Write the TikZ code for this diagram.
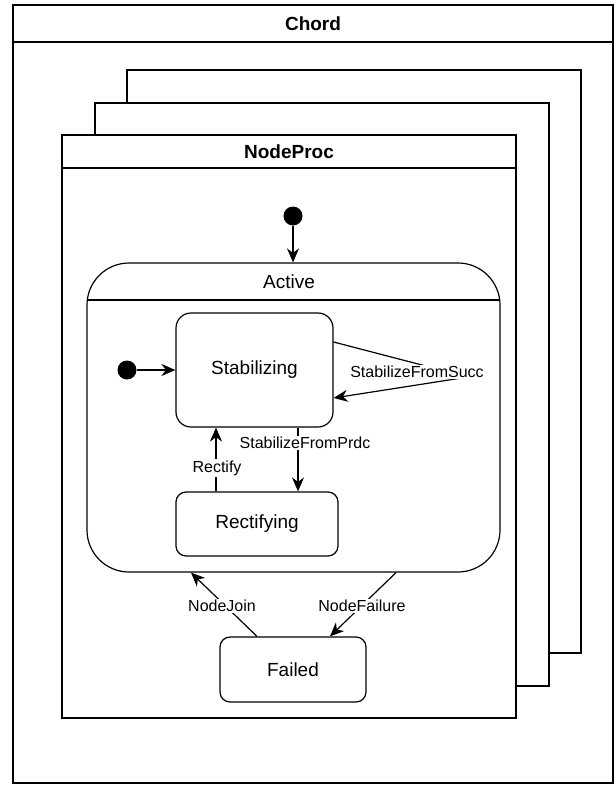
\documentclass[tikz,border=0pt]{standalone}
\usepackage{fontspec}
\setmainfont{Liberation Sans}
\usetikzlibrary{arrows.meta}
\begin{document}
\begin{tikzpicture}[x=1pt,y=-1pt,
  line width=1.2pt,
  frame/.style={draw=black,fill=white},
  title/.style={font=\fontsize{19}{22}\selectfont\bfseries,inner sep=0pt},
  statebox/.style={draw=black,fill=white,rounded corners=12pt,
    font=\fontsize{19}{22}\selectfont,inner sep=0pt},
  startdot/.style={circle,fill=black,draw=none,minimum size=19pt,inner sep=0pt},
  arr/.style={-{Stealth[length=14pt,width=12pt,inset=4.5pt]}},
  lbl/.style={fill=white,font=\fontsize{16}{18}\selectfont,inner sep=1.5pt}]
\useasboundingbox (0,0) rectangle (616,785);

% outer container
\draw[frame] (13,5) rectangle (613,783);
\draw (13,42) -- (613,42);
\node[title] (chord) at (313,24) {Chord};

% stacked process instances
\draw[frame] (127,70) rectangle (581,653);
\draw[frame] (95,103) rectangle (549,686);
\draw[frame] (62,135) rectangle (516,718);
\draw (62,168) -- (516,168);
\node[title] (nodeproc) at (289,152) {NodeProc};

% composite state
\node[draw=black,fill=white,rounded corners=42pt,minimum width=413pt,minimum height=309pt,inner sep=0pt]
  (active) at (293.5,417.5) {};
\draw (87.2,300) -- (499.8,300);
\node[font=\fontsize{19}{22}\selectfont,inner sep=0pt] (activelbl) at (289,282) {Active};

% states
\node[statebox,rounded corners=15pt,minimum width=157pt,minimum height=114pt] (stab) at (254.5,370) {Stabilizing};
\node[statebox,rounded corners=10pt,minimum width=162pt,minimum height=64pt] (rect) at (257,524) {Rectifying};
\node[statebox,rounded corners=10pt,minimum width=146pt,minimum height=65pt] (failed) at (293,669.5) {Failed};

% initial pseudostates
\node[startdot] (init1) at (293,216) {};
\node[startdot] (init2) at (127,370) {};

\draw[arr] (init1.south) -- (init1.south |- active.north);
\draw[arr] (init2.east) -- (stab.west);

% self transition
\coordinate (loopc) at (468,377);
\draw[arr] ([yshift=28pt]stab.east) -- (loopc) -- ([yshift=-28pt]stab.east);
\node[lbl] (succlbl) at (417,372) {StabilizeFromSucc};

% transitions inside Active
\draw[arr] ([xshift=43.5pt]stab.south) -- ([xshift=43.5pt]stab.south |- rect.north);
\node[lbl] (prdclbl) at (305,443) {StabilizeFromPrdc};
\draw[arr] ([xshift=-41pt]rect.north) -- ([xshift=-41pt]rect.north |- stab.south);
\node[lbl] (rectlbl) at (217,468) {Rectify};

% failure and rejoin
\draw[arr] ([xshift=-36pt]failed.north) -- ([xshift=-102.5pt]active.south);
\node[lbl] (joinlbl) at (222,606) {NodeJoin};
\draw[arr] ([xshift=102.5pt]active.south) -- ([xshift=37pt]failed.north);
\node[lbl] (faillbl) at (362,606) {NodeFailure};
\end{tikzpicture}
\end{document}
